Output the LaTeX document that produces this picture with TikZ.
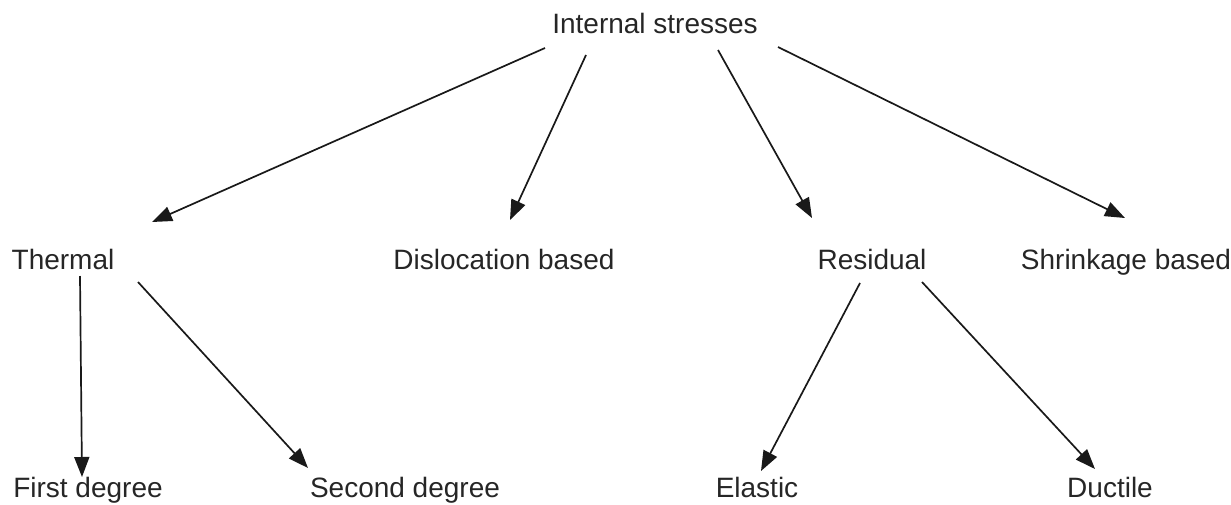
\documentclass[tikz,border=0pt]{standalone}
\usepackage{fontspec}
\setmainfont{Liberation Sans}
\usetikzlibrary{arrows.meta}

\begin{document}
\begin{tikzpicture}[x=0.5pt, y=-0.5pt,
    label/.style={anchor=base, inner sep=0pt, text=black!85, font=\fontsize{14}{17}\selectfont},
    arr/.style={line width=0.85pt, black!90, -{Triangle[length=10pt,width=7.5pt]}}]
    \useasboundingbox (0,0) rectangle (1231,504);

    % Draw the root
    \node[label] (root) at (655,33) {Internal stresses};

    % Draw the four kinds
    \node[label] (thermal) at (63,269) {Thermal};
    \node[label] (disloc) at (504,269) {Dislocation based};
    \node[label] (resid) at (872,269) {Residual};
    \node[label] (shrink) at (1126,269) {Shrinkage based};

    % Draw the sub kinds
    \node[label] (first) at (88,497) {First degree};
    \node[label] (second) at (405,497) {Second degree};
    \node[label] (elastic) at (757,497) {Elastic};
    \node[label] (ductile) at (1110,497) {Ductile};

    % Draw some arrows
    \draw[arr] ([shift={(-110,15)}]root.base) -- ([shift={(89,-47)}]thermal.base);
    \draw[arr] ([shift={(-69,22)}]root.base) -- ([shift={(6,-49)}]disloc.base);
    \draw[arr] ([shift={(63,17)}]root.base) -- ([shift={(-60,-51)}]resid.base);
    \draw[arr] ([shift={(123,14)}]root.base) -- ([shift={(-1,-51)}]shrink.base);

    \draw[arr] ([shift={(17,7)}]thermal.base) -- ([shift={(-6,-20)}]first.base);
    \draw[arr] ([shift={(75,13)}]thermal.base) -- ([shift={(-97,-29)}]second.base);
    \draw[arr] ([shift={(-12,14)}]resid.base) -- ([shift={(4,-26)}]elastic.base);
    \draw[arr] ([shift={(50,13)}]resid.base) -- ([shift={(-15,-28)}]ductile.base);
\end{tikzpicture}
\end{document}
